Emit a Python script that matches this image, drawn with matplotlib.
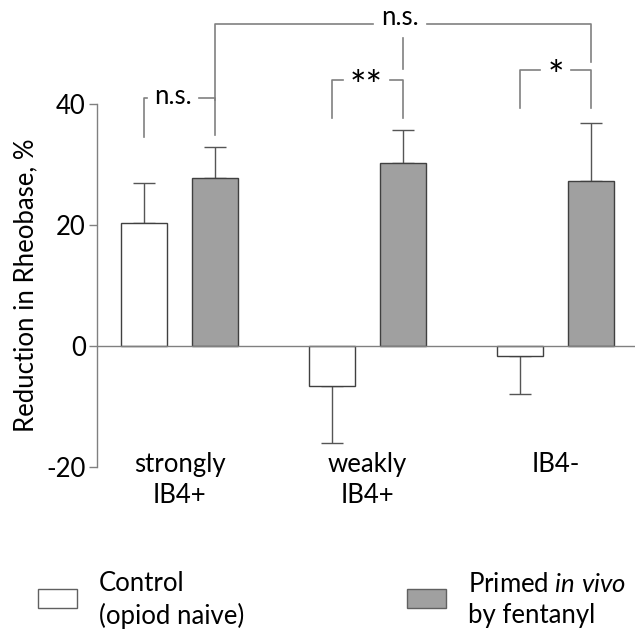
import numpy as np
import matplotlib
matplotlib.use("Agg")
import matplotlib.pyplot as plt
from matplotlib.patches import Rectangle

plt.rcParams['font.family'] = ['Lato', 'DejaVu Sans']
plt.rcParams['mathtext.fontset'] = 'custom'
plt.rcParams['mathtext.rm'] = 'Lato'
plt.rcParams['mathtext.it'] = 'Lato:italic'
plt.rcParams['axes.unicode_minus'] = False

# data
groups = ["strongly\nIB4+", "weakly\nIB4+", "IB4-"]
control = [20.3, -6.6, -1.6]
control_err = [6.6, 9.4, 6.3]
primed = [27.7, 30.2, 27.3]
primed_err = [5.2, 5.5, 9.6]

# significance brackets: (left bar, right bar, label, top, left bottom, right bottom)
# bars indexed 0..5 = control/primed per group
brackets = [
    (0, 1, "n.s.", 41.0, 34.5, 34.9),
    (2, 3, "**", 44.0, 37.7, 37.7),
    (4, 5, "*", 45.6, 39.3, 39.3),
]
gap_half = [0.14, 0.125, 0.08]
text_shift = [-0.035, -0.005, 0.0]

gray = "#a0a0a0"
line_gray = "#808080"
fs = 18.5

fig = plt.figure(figsize=(6.35, 6.31), dpi=100)
ax = fig.add_axes([97 / 635, 164 / 631, 538 / 635, 363 / 631])

x = np.arange(len(groups))
off = 0.189
w = 0.245

ax.bar(x - off, control, w, color="white", edgecolor="#404040", linewidth=1, zorder=3)
ax.bar(x + off, primed, w, color=gray, edgecolor="#404040", linewidth=1, zorder=3)

# one-sided error bars (away from zero)
c_lo = [0 if v >= 0 else e for v, e in zip(control, control_err)]
c_hi = [e if v >= 0 else 0 for v, e in zip(control, control_err)]
ax.errorbar(x - off, control, yerr=[c_lo, c_hi], fmt="none", ecolor="#555555",
            elinewidth=1, capsize=8, capthick=1, zorder=2)
ax.errorbar(x + off, primed, yerr=[[0] * 3, primed_err], fmt="none", ecolor="#555555",
            elinewidth=1, capsize=8, capthick=1, zorder=2)

ax.set_xlim(-0.439, 2.423)
ax.set_ylim(-20, 40)
ax.axhline(0, color=line_gray, lw=1, zorder=4)

for s in ["top", "right", "bottom"]:
    ax.spines[s].set_visible(False)
ax.spines["left"].set_color(line_gray)
ax.spines["left"].set_linewidth(1)
ax.set_xticks([])
ax.set_yticks([-20, 0, 20, 40])
ax.tick_params(axis="y", length=6, width=1, color=line_gray, labelsize=fs, pad=2)
ax.set_ylabel("Reduction in Rheobase, %", fontsize=fs, labelpad=6)

for xi, g in zip(x, groups):
    ax.text(xi, -17.6, g, ha="center", va="top", fontsize=fs, linespacing=1.3)

bar_x = [p for xi in x for p in (xi - off, xi + off)]
kw = dict(color=line_gray, lw=1.2, clip_on=False)

for (i, j, lab, top, lb, rb), gh, sh in zip(brackets, gap_half, text_shift):
    xl, xr = bar_x[i], bar_x[j]
    xm = (xl + xr) / 2 + sh
    ax.plot([xl, xl, xm - gh], [lb, top, top], **kw)
    ax.plot([xm + gh, xr, xr], [top, top, rb], **kw)
    if lab == "n.s.":
        ax.text(xm, top - 1.0, lab, ha="center", va="baseline", fontsize=fs)
    else:
        ax.text(xm, top - 3.2, lab, ha="center", va="baseline", fontsize=28)

# top bracket: strongly primed vs weakly primed vs IB4- primed
top_y = 53.2
xl, xmid, xr = bar_x[1], bar_x[3], bar_x[5]
xt = xmid - 0.015
ax.plot([xl, xl, xt - 0.145], [40.7, top_y, top_y], **kw)
ax.plot([xt + 0.145, xr, xr], [top_y, top_y, 46.9], **kw)
ax.plot([xmid, xmid], [50.9, 45.8], **kw)
ax.text(xt, top_y - 0.2, "n.s.", ha="center", va="baseline", fontsize=fs)

# legend
fig.add_artist(Rectangle((38 / 635, 1 - 608 / 631), 39 / 635, 19 / 631,
                         transform=fig.transFigure, facecolor="white",
                         edgecolor="#606060", lw=1))
fig.add_artist(Rectangle((407 / 635, 1 - 608 / 631), 39 / 635, 19 / 631,
                         transform=fig.transFigure, facecolor=gray,
                         edgecolor="#606060", lw=1))
fig.text(99 / 635, 1 - 600 / 631, "Control\n(opiod naive)", ha="left", va="center",
         fontsize=fs, linespacing=1.3)
fig.text(468 / 635, 1 - 600 / 631, "Primed $\\mathit{in\\ vivo}$\nby fentanyl", ha="left",
         va="center", fontsize=fs, linespacing=1.3)

fig.savefig("out.png", dpi=100)
